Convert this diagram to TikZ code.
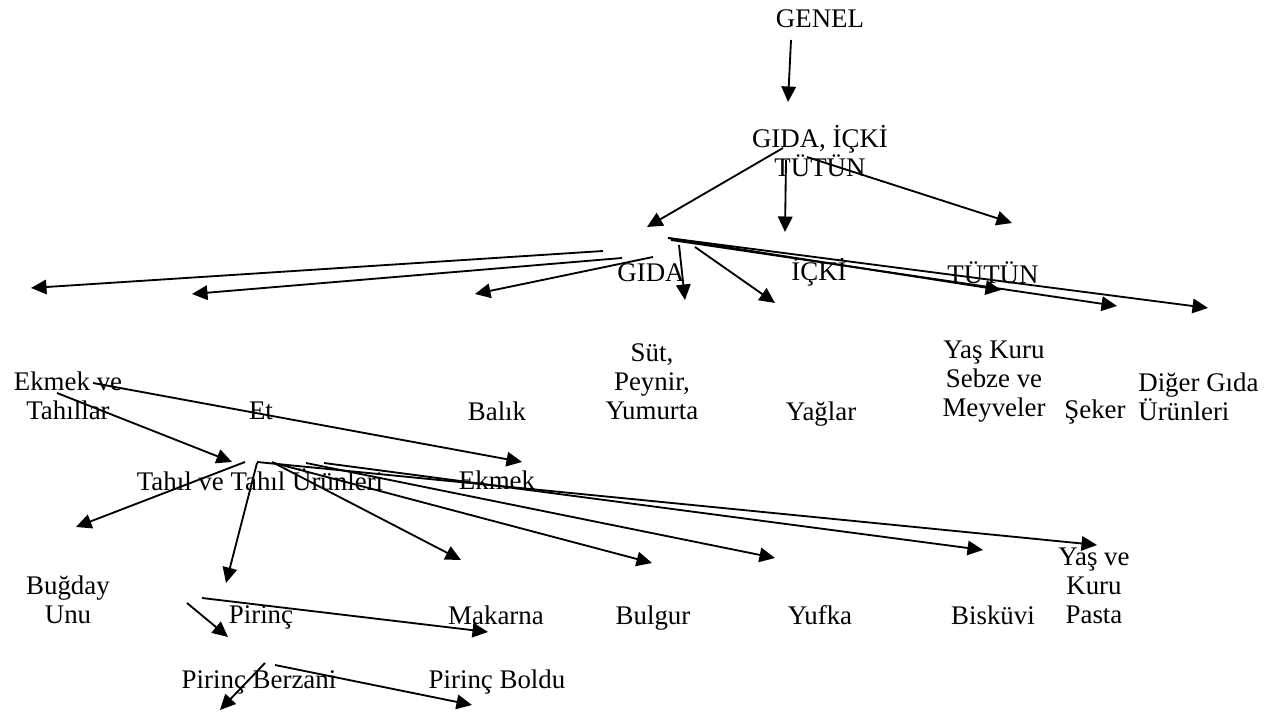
\documentclass[tikz,border=0pt]{standalone}
\usepackage{fontspec}
\setmainfont{Liberation Serif}
\usetikzlibrary{arrows.meta}
\tikzstyle{item}=[inner sep=0pt, align=center, font=\fontsize{15.3}{16.5}\selectfont]
\tikzstyle{link}=[line width=1.05pt, -{Triangle[length=0.31cm, width=0.29cm]}]
\newcommand{\pxx}{0.02cm}
\newcommand{\itemarrow}[3]{ \coordinate (#1a) at (#2); \coordinate (#1b) at (#3); \draw[link] (#1a) -- (#1b); }

\begin{document}
\begin{tikzpicture}[x=\pxx, y=-\pxx]
        \useasboundingbox (0,0) rectangle (1271,712);
        % top levels
        \node[item] (genel) at (820,19) {GENEL};
        \node[item] (gicki) at (820,151) {GIDA, İÇKİ\\TÜTÜN};
        \node[item] (gida) at (651,273) {GIDA};
        \node[item] (icki) at (819,272) {İÇKİ};
        \node[item] (tutun) at (993,273) {TÜTÜN};
        % food groups
        \node[item] (ekmekve) at (68,396) {Ekmek ve\\Tahıllar};
        \node[item] (et) at (261,411) {Et};
        \node[item] (balik) at (497,411) {Balık};
        \node[item] (sut) at (652,382) {Süt,\\Peynir,\\Yumurta};
        \node[item] (yaglar) at (821,414) {Yağlar};
        \node[item] (sebze) at (994,382) {Yaş Kuru\\Sebze ve\\Meyveler};
        \node[item] (seker) at (1095,412) {Şeker};
        \node[item, align=left, anchor=west] (diger) at (1138,397) {Diğer Gıda\\Ürünleri};
        \node[item] (tahil) at (260,480) {Tahıl ve Tahıl Ürünleri};
        \node[item] (ekmek) at (497,480) {Ekmek};
        % grain products
        \node[item] (bugday) at (68,600) {Buğday\\Unu};
        \node[item] (pirinc) at (261,617) {Pirinç};
        \node[item] (makarna) at (496,615) {Makarna};
        \node[item] (bulgur) at (653,618) {Bulgur};
        \node[item] (yufka) at (820,615) {Yufka};
        \node[item] (biskuvi) at (993,615) {Bisküvi};
        \node[item] (pasta) at (1094,586) {Yaş ve\\Kuru\\Pasta};
        \node[item] (berzani) at (259,682) {Pirinç Berzani};
        \node[item] (boldu) at (497,682) {Pirinç Boldu};

        \itemarrow{genel}{791,40}{788,102}
        \itemarrow{gida}{783,148}{647,227}
        \itemarrow{icki}{786,160}{785,232}
        \itemarrow{tutun}{807,157}{1012,223}

        \itemarrow{ekmekve}{603,251}{31,288}
        \itemarrow{et}{622,258}{192,294}
        \itemarrow{balik}{653,257}{475,294}
        \itemarrow{sut}{679,245}{685,300}
        \itemarrow{yaglar}{695,247}{775,303}
        \itemarrow{sebze}{668,238}{1001,290}
        \itemarrow{seker}{671,240}{1117,306}
        \itemarrow{diger}{668,238}{1208,308}

        \itemarrow{ekmek}{93,383}{522,462}
        \itemarrow{tahil}{57,393}{232,462}

        \itemarrow{bugday}{245,462}{76,527}
        \itemarrow{pirinc}{257,463}{226,583}
        \itemarrow{makarna}{272,462}{461,560}
        \itemarrow{bulgur}{274,463}{652,563}
        \itemarrow{yufka}{306,463}{775,558}
        \itemarrow{biskuvi}{324,463}{983,550}
        \itemarrow{pasta}{257,462}{1097,545}

        \itemarrow{pirincalt}{187,603}{228,637}
        \itemarrow{pirincsag}{202,598}{488,632}
        \itemarrow{berzani}{265,663}{220,710}
        \itemarrow{boldu}{275,665}{472,705}
\end{tikzpicture}
\end{document}
